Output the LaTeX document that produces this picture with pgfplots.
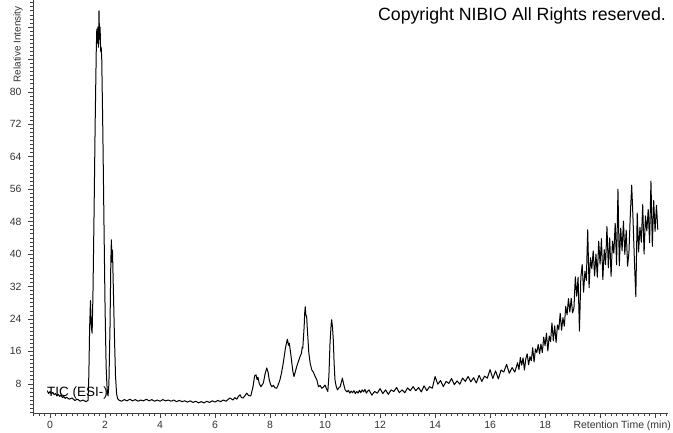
\documentclass[border=0pt]{standalone}
\usepackage{fontspec}
\setmainfont{Liberation Sans}
\usepackage{pgfplots}
\pgfplotsset{compat=1.18}
\begin{document}
\begin{tikzpicture}
\useasboundingbox (-33bp,-20bp) rectangle (640bp,413bp);
\begin{axis}[
    scale only axis, width=635bp, height=413bp,
    at={(0,0)}, anchor=south west,
    xmin=-0.62, xmax=22.47, ymin=0.8, ymax=102.66,
    axis x line=bottom, axis y line=left,
    axis line style={-, black!75, line width=0.8bp},
    tick align=outside,
    major tick length=5bp, minor tick length=3bp,
    every tick/.style={black!75, line width=0.6bp},
    xtick={0,2,...,22}, xticklabels={0,2,4,6,8,10,12,14,16,18,,},
    ytick={8,16,...,96}, yticklabels={8,16,24,32,40,48,56,64,72,80,,},
    minor xtick={-0.6,-0.4,...,22.4},
    minor ytick={1,2,...,102},
    ticklabel style={font=\fontsize{10.5}{12}\selectfont, text=black!80},
    yticklabel style={xshift=-3bp},
    /pgf/number format/assume math mode=true,
    clip=false,
]
\addplot[black, line width=1bp, line join=round] coordinates {
(-0.10,6.3) (-0.05,5.6) (0.00,6.1) (0.05,5.5) (0.10,5.9) (0.15,5.3) (0.20,5.6)
(0.25,5.0) (0.30,5.4) (0.35,4.9) (0.40,5.2) (0.45,4.6) (0.50,4.9) (0.55,4.4)
(0.60,4.7) (0.70,4.2) (0.80,4.5) (0.90,3.9) (1.00,4.2) (1.10,3.7) (1.20,4.0)
(1.30,3.6) (1.38,3.9)
(1.41,10) (1.44,22) (1.47,28.5) (1.50,22) (1.53,20.5) (1.56,30) (1.60,50)
(1.64,72) (1.68,90) (1.70,95.5) (1.72,92) (1.74,96) (1.76,91) (1.78,100)
(1.80,93) (1.82,96) (1.84,90) (1.86,91) (1.88,88) (1.92,70) (1.96,48)
(2.00,27) (2.04,12) (2.08,6) (2.11,5.0)
(2.14,8) (2.18,22) (2.21,38) (2.23,43.5) (2.25,38) (2.27,41) (2.30,32)
(2.34,20) (2.38,10) (2.42,5.5) (2.46,4.3)
(2.5,4.0) (2.6,3.7) (2.7,4.1) (2.8,3.8) (2.9,4.2) (3.0,3.8) (3.1,4.1)
(3.2,3.7) (3.3,4.0) (3.4,3.8) (3.5,4.2) (3.6,3.8) (3.7,4.1) (3.8,3.7)
(3.9,4.0) (4.0,3.7) (4.1,4.1) (4.2,3.8) (4.3,4.0) (4.4,3.7) (4.5,4.0)
(4.6,3.6) (4.7,3.9) (4.8,3.6) (4.9,3.8) (5.0,3.5) (5.1,3.8) (5.2,3.4)
(5.3,3.7) (5.4,3.3) (5.5,3.6) (5.6,3.3) (5.7,3.7) (5.8,3.4) (5.9,3.8)
(6.0,3.5) (6.1,3.9) (6.2,3.6) (6.3,4.0) (6.4,3.7) (6.5,4.3)
(6.55,4.5) (6.65,4.0) (6.72,4.6) (6.79,4.2) (6.85,4.9) (6.91,5.3) (6.96,4.6)
(7.02,4.5) (7.08,5.0) (7.15,5.7) (7.22,5.1) (7.30,5.0) (7.38,7.3) (7.44,10.0)
(7.49,10.2) (7.53,9.0) (7.56,9.6) (7.61,8.0) (7.67,7.3) (7.72,7.8) (7.76,8.3)
(7.82,10.5) (7.88,11.9) (7.93,10.8) (7.97,9.0) (8.02,7.8) (8.06,7.3) (8.12,7.6)
(8.18,7.0) (8.24,6.9) (8.30,7.8) (8.36,9.0) (8.41,10.5) (8.46,12.3) (8.51,14.5)
(8.55,16.4) (8.60,18.2) (8.63,19.0) (8.67,17.5) (8.70,18.0) (8.75,15.5) (8.79,13.2)
(8.83,11.0) (8.87,9.8) (8.92,11.0) (8.97,12.3) (9.03,13.5) (9.09,14.7) (9.14,15.5)
(9.17,17.0) (9.19,16.8) (9.22,20.0) (9.24,22.1) (9.26,25.5) (9.28,27.0) (9.30,25.0)
(9.33,24.6) (9.36,21.0) (9.41,15.6) (9.46,13.0) (9.52,11.4) (9.58,10.8) (9.64,9.8)
(9.70,9.0) (9.76,7.3) (9.82,7.6) (9.88,6.9) (9.94,7.2) (10.00,7.7) (10.05,6.8)
(10.10,6.1) (10.14,10.0) (10.18,18.0) (10.22,22.5) (10.24,23.8) (10.27,22.0) (10.30,18.8)
(10.33,13.0) (10.36,9.0) (10.40,7.5) (10.45,6.5) (10.50,7.0) (10.55,7.3) (10.60,8.6)
(10.63,9.4) (10.68,7.8) (10.73,6.5) (10.80,6.0) (10.85,6.4) (10.90,5.7) (10.95,6.2)
(11.00,5.8) (11.05,6.3) (11.10,5.6) (11.15,6.1) (11.20,5.7) (11.25,6.4) (11.30,5.8)
(11.35,6.5) (11.40,6.0) (11.45,6.6) (11.50,5.7) (11.55,6.2)
(11.6,6.5) (11.7,5.2) (11.8,6.1) (11.9,5.7) (12.0,6.8) (12.1,5.6) (12.2,6.5)
(12.3,5.4) (12.4,6.5) (12.5,6.1) (12.6,7.1) (12.7,5.8) (12.8,6.5) (12.9,5.8)
(13.0,7.0) (13.1,6.3) (13.2,7.3) (13.3,6.3) (13.4,7.1) (13.5,6.0) (13.6,7.5)
(13.7,6.3) (13.8,7.3) (13.9,6.9) (14.0,9.8) (14.1,7.9) (14.2,8.8) (14.3,7.3)
(14.4,8.6) (14.5,8.1) (14.6,9.3) (14.7,7.8) (14.8,8.7) (14.9,7.9) (15.0,9.4)
(15.1,8.6) (15.2,9.8) (15.3,8.5) (15.4,9.5) (15.5,8.2) (15.6,10.1) (15.7,8.6)
(15.8,9.9) (15.9,9.4) (16.0,11.5) (16.1,9.3) (16.2,11.2) (16.3,9.2) (16.4,11.4)
(16.5,10.9) (16.6,12.8) (16.7,10.6) (16.8,12.0) (16.9,10.9) (17.0,13.2)
(17.05,11.5) (17.10,14.5) (17.15,12.6) (17.20,14.4) (17.25,11.4) (17.30,14.2)
(17.35,15.4) (17.40,12.7) (17.45,14.7) (17.50,13.7) (17.55,16.9) (17.60,13.4)
(17.65,16.6) (17.70,15.7) (17.75,17.7) (17.80,15.4) (17.85,17.8) (17.90,15.7)
(17.95,19.5) (18.00,17.4) (18.05,20.5) (18.10,16.1) (18.15,19.8) (18.20,18.4)
(18.25,23.0) (18.30,18.6) (18.35,22.3) (18.40,18.2) (18.45,22.5) (18.50,21.4)
(18.55,25.4) (18.60,21.2) (18.65,24.3) (18.70,22.2) (18.75,27.1) (18.80,25.0)
(18.85,29.0) (18.90,25.7) (18.95,29.1) (19.00,25.5) (19.05,26.7) (19.10,34.4)
(19.15,29.6) (19.20,34.3) (19.25,21.0) (19.30,34.2) (19.35,37.4) (19.40,30.6)
(19.45,35.8) (19.50,33.5) (19.55,46.0) (19.60,31.7) (19.65,39.1) (19.70,36.4)
(19.75,40.8) (19.80,34.6) (19.85,40.0) (19.90,34.3) (19.95,43.2) (20.00,37.5)
(20.05,43.8) (20.10,33.7) (20.15,41.1) (20.20,37.4) (20.25,46.8) (20.30,36.6)
(20.35,44.0) (20.40,34.5) (20.45,43.2) (20.50,40.2) (20.55,47.6) (20.60,37.4)
(20.65,56.0) (20.70,37.1) (20.75,46.4) (20.80,40.8) (20.85,48.1) (20.90,39.9)
(20.95,45.9) (21.00,37.0) (21.05,40.5) (21.10,49.8) (21.15,57.0) (21.20,48.2)
(21.25,38.0) (21.30,29.5) (21.35,50.1) (21.40,40.5) (21.45,46.6) (21.50,42.9)
(21.55,52.2) (21.60,40.0) (21.65,49.4) (21.70,45.7) (21.75,51.0) (21.80,42.8)
(21.85,58.0) (21.90,41.9) (21.95,53.2) (22.00,45.6) (22.05,52.0) (22.10,46.0)
};
\node[anchor=base east, inner sep=0pt, font=\fontsize{17.8}{20}\selectfont] at (axis cs:22.4,97.5) {Copyright NIBIO All Rights reserved.};
\node[anchor=base west, inner sep=0pt, font=\fontsize{13.5}{15}\selectfont] at (axis cs:-0.11,4.78) {TIC (ESI-)};
\node[anchor=base east, inner sep=0pt, text=black!80, font=\fontsize{10.5}{12}\selectfont] at (axis cs:22.58,-3.1) {Retention Time (min)};
\node[rotate=90, anchor=west, inner sep=0pt, text=black!80, font=\fontsize{10}{12}\selectfont] at (axis cs:-1.16,82.3) {Relative Intensity};
\end{axis}
\end{tikzpicture}
\end{document}
